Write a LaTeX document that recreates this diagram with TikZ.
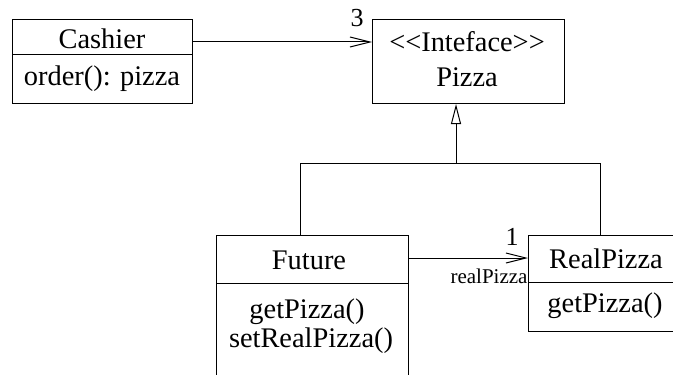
\documentclass[tikz,border=0pt]{standalone}
\usepackage{fontspec}
\setmainfont{Liberation Serif}
\usetikzlibrary{arrows.meta}
\begin{document}
\begin{tikzpicture}[x=0.5pt,y=-0.5pt,
  box/.style={draw,line width=0.5pt,anchor=north west,inner sep=0pt},
  txt/.style={anchor=base,inner sep=0pt,font=\fontsize{14.2}{16}\selectfont},
  small/.style={anchor=base,inner sep=0pt,font=\fontsize{10.5}{12}\selectfont},
  mult/.style={anchor=base,inner sep=0pt,font=\fontsize{13}{15}\selectfont},
  assoc/.style={line width=0.5pt,-{Straight Barb[length=10pt,width=5pt,line width=0.5pt]}},
  gen/.style={line width=0.5pt,-{Triangle[open,length=10pt,width=5pt,line width=0.5pt,fill=white]}},
  div/.style={line width=0.5pt}]
\useasboundingbox (0,0) rectangle (673,374);
\clip (0,0) rectangle (673,374);
% boxes
\node[box,minimum width=90pt,minimum height=42pt] (cashier) at (12,19) {};
\node[box,minimum width=96pt,minimum height=42pt] (pizza) at (372,19) {};
\node[box,minimum width=96pt,minimum height=90pt] (future) at (216,235) {};
\node[box,minimum width=90pt,minimum height=48pt] (real) at (528,235) {};
% dividers
\draw[div] ([yshift=-18pt]cashier.north west) -- ([yshift=-18pt]cashier.north east);
\draw[div] ([yshift=-24pt]future.north west) -- ([yshift=-24pt]future.north east);
\draw[div] ([yshift=-23.5pt]real.north west) -- ([yshift=-23.5pt]real.north east);
% texts
\node[txt] (t1) at (102,49) {Cashier};
\node[txt] (t2) at (102,85) {order(): pizza};
\node[txt] (t3) at (467,52) {<\kern0pt<Inteface>\kern0pt>};
\node[txt] (t4) at (467,87) {Pizza};
\node[txt] (t5) at (309,269) {Future};
\node[txt] (t6) at (307,318) {getPizza()};
\node[txt] (t7) at (311,347) {setRealPizza()};
\node[txt] (t8) at (606,268) {RealPizza};
\node[txt] (t9) at (605,312) {getPizza()};
% connectors
\draw[assoc] ([yshift=-11.5pt]cashier.north east) -- ([yshift=-11.5pt]pizza.north west);
\node[mult] (m3) at (357,27) {3};
\draw[assoc] ([yshift=-11.5pt]future.north east) -- ([yshift=-11.5pt]real.north west);
\node[mult] (m1) at (512,245) {1};
\node[small] (rp) at (489,283) {realPizza};
\coordinate (j) at (456,163);
\draw[gen] ([xshift=42pt]future.north west) |- (j) -- ([xshift=42pt]pizza.south west);
\draw[line width=0.5pt] ([xshift=36pt]real.north west) |- (j);
\end{tikzpicture}
\end{document}
